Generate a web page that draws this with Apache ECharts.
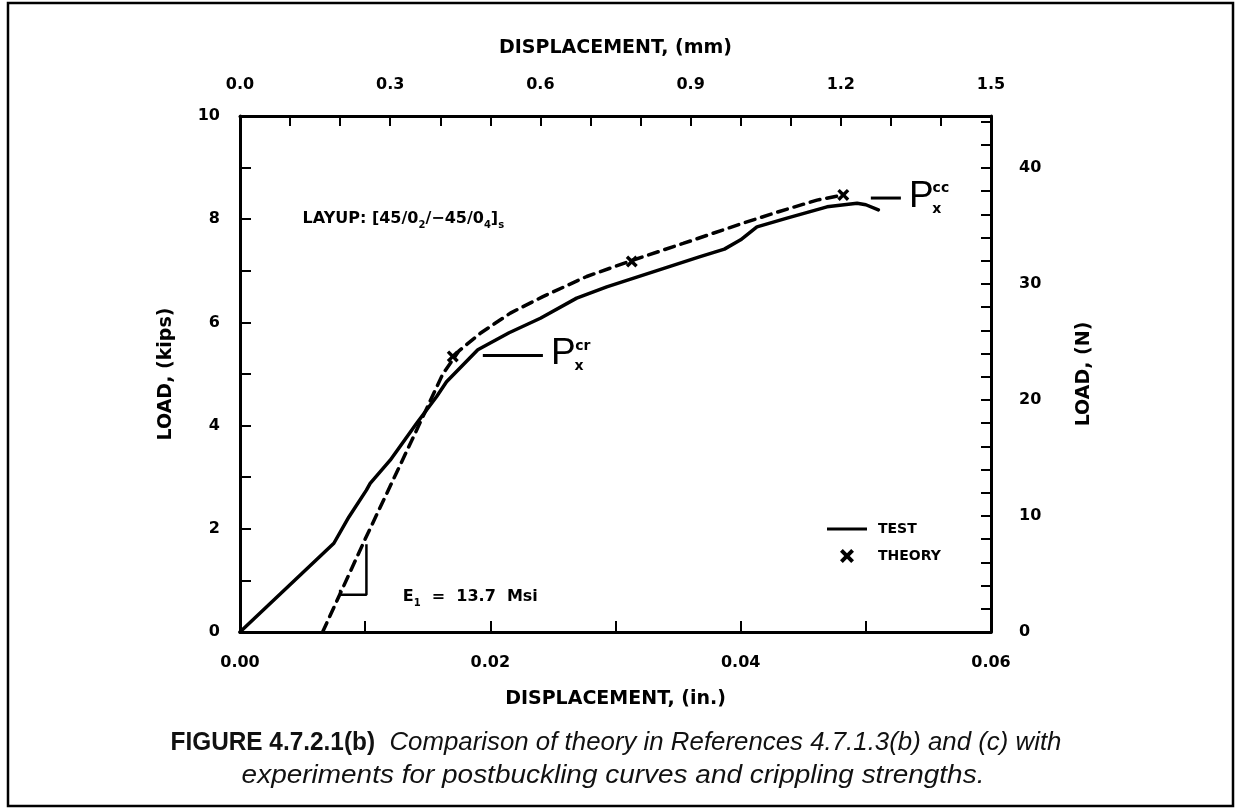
<!DOCTYPE html>
<html><head><meta charset="utf-8">
<script src="https://cdn.jsdelivr.net/npm/echarts@6/dist/echarts.min.js"></script>
<style>html,body{margin:0;padding:0;background:#fff}#c{width:1237px;height:811px}</style>
</head><body><div id="c"></div>
<script>
// ---- data ----
const TEST_X    = [0, 0.0075, 0.0087, 0.0101, 0.0104, 0.0120, 0.0141, 0.0157, 0.0165, 0.0190, 0.0215, 0.0240, 0.0269, 0.0293, 0.0330, 0.0367, 0.0387, 0.0400, 0.0413, 0.0437, 0.0469, 0.0493, 0.0500, 0.0510];
const TEST_LOAD = [0, 1.72, 2.23, 2.75, 2.88, 3.33, 4.04, 4.56, 4.85, 5.47, 5.80, 6.08, 6.47, 6.69, 6.98, 7.27, 7.42, 7.60, 7.85, 8.02, 8.24, 8.31, 8.28, 8.18];
const THEORY_CURVE_X    = [0.0066, 0.0100, 0.0137, 0.0162, 0.0175, 0.0192, 0.0216, 0.0242, 0.0277, 0.0313, 0.0354, 0.0399, 0.0431, 0.0461, 0.0482];
const THEORY_CURVE_LOAD = [0, 1.80, 3.70, 5.00, 5.45, 5.79, 6.18, 6.50, 6.89, 7.20, 7.53, 7.90, 8.15, 8.37, 8.47];
const THEORY_MARK_X    = [0.0170, 0.0313, 0.0482];
const THEORY_MARK_LOAD = [5.34, 7.18, 8.47];
const SLOPE_X    = [0.0080, 0.0080, 0.0101, 0.0101];
const SLOPE_LOAD = [0.82, 0.72, 0.72, 1.70];

// tick labels
const X_IN_LABELS = ['0.00', '0.02', '0.04', '0.06'];
const X_MM_LABELS = ['0.0', '0.3', '0.6', '0.9', '1.2', '1.5'];
const Y_KIPS_LABELS = ['0', '2', '4', '6', '8', '10'];
const Y_N_LABELS = ['0', '10', '20', '30', '40'];

// annotation anchors (data coordinates, in./kips)
const PCR_LINE = [[0.0194, 5.36], [0.0242, 5.36]];
const PCC_LINE = [[0.0504, 8.41], [0.0528, 8.41]];
const LAYUP_AT = [0.0050, 8.0];
const E1_AT = [0.0130, 0.68];

const FONT = "'DejaVu Sans', sans-serif";
const KIPS_TO_KN = 4.448;

const pairs = (xs, ys) => xs.map((x, i) => [x, ys[i]]);
const fmt = (labels, d) => v => { const s = (+v).toFixed(d); return labels.indexOf(s) >= 0 ? s : ''; };
const XSYM = 'path://M0,2L2,0L5,3L8,0L10,2L7,5L10,8L8,10L5,7L2,10L0,8L3,5Z';

const labelStyle = { color: '#000', fontFamily: FONT, fontWeight: 'bold', fontSize: 16 };
const nameStyle = { color: '#000', fontFamily: FONT, fontWeight: 'bold', fontSize: 19 };
const lineStyleAxis = { color: '#000', width: 3 };
const tickStyle = { color: '#000', width: 2 };

const chart = echarts.init(document.getElementById('c'), null, { renderer: 'canvas' });
chart.setOption({
  animation: false,
  backgroundColor: '#fff',
  grid: { left: 240, right: 246, top: 116, bottom: 179, containLabel: false, outerBoundsMode: 'none' },
  legend: {
    orient: 'vertical', left: 822, top: 517, itemWidth: 40, itemHeight: 14, itemGap: 13,
    itemStyle: { opacity: 1 },
    textStyle: { color: '#000', fontFamily: FONT, fontWeight: 'bold', fontSize: 14, padding: [0, 0, 0, 6] },
    data: [
      { name: 'TEST', icon: 'path://M0,0H40V3.2H0Z' },
      { name: 'THEORY', icon: XSYM }
    ],
    selectedMode: false
  },
  xAxis: [
    {
      type: 'value', position: 'bottom', min: 0, max: 0.06, interval: 0.01,
      name: 'DISPLACEMENT, (in.)', nameLocation: 'middle', nameGap: 58, nameTextStyle: nameStyle,
      axisLine: { show: true, onZero: false, lineStyle: lineStyleAxis },
      axisTick: { show: true, inside: true, length: 11, lineStyle: tickStyle },
      axisLabel: { ...labelStyle, margin: 23, formatter: fmt(X_IN_LABELS, 2) },
      splitLine: { show: false }
    },
    {
      type: 'value', position: 'top', min: 0, max: 1.5, interval: 0.1,
      name: 'DISPLACEMENT, (mm)', nameLocation: 'middle', nameGap: 58, nameTextStyle: nameStyle,
      axisLine: { show: true, onZero: false, lineStyle: lineStyleAxis },
      axisTick: { show: true, inside: true, length: 10, lineStyle: tickStyle },
      axisLabel: { ...labelStyle, margin: 23, formatter: fmt(X_MM_LABELS, 1) },
      splitLine: { show: false }
    }
  ],
  yAxis: [
    {
      type: 'value', position: 'left', min: 0, max: 10, interval: 1,
      name: 'LOAD, (kips)', nameLocation: 'middle', nameGap: 64, nameRotate: 90, nameTextStyle: nameStyle,
      axisLine: { show: true, onZero: false, lineStyle: lineStyleAxis },
      axisTick: { show: true, inside: true, length: 11, lineStyle: tickStyle },
      axisLabel: { ...labelStyle, margin: 20, formatter: fmt(Y_KIPS_LABELS, 0) },
      splitLine: { show: false }
    },
    {
      type: 'value', position: 'right', min: 0, max: 10 * KIPS_TO_KN, interval: 2,
      name: 'LOAD, (N)', nameLocation: 'middle', nameGap: 84, nameRotate: 90, nameTextStyle: nameStyle,
      axisLine: { show: true, onZero: false, lineStyle: lineStyleAxis },
      axisTick: { show: true, inside: true, length: 10, lineStyle: tickStyle },
      axisLabel: { ...labelStyle, margin: 28, align: 'left', formatter: fmt(Y_N_LABELS, 0) },
      splitLine: { show: false }
    }
  ],
  series: [
    {
      name: 'THEORY curve', type: 'line', xAxisIndex: 0, yAxisIndex: 0,
      data: pairs(THEORY_CURVE_X, THEORY_CURVE_LOAD), showSymbol: false, silent: true,
      lineStyle: { color: '#000', width: 3.5, type: [10, 7], cap: 'round' }, z: 2
    },
    {
      name: 'TEST', type: 'line', xAxisIndex: 0, yAxisIndex: 0,
      data: pairs(TEST_X, TEST_LOAD), showSymbol: false, silent: true,
      itemStyle: { color: '#000' },
      lineStyle: { color: '#000', width: 3.5, join: 'round', cap: 'round' }, z: 3
    },
    {
      name: 'THEORY', type: 'scatter', xAxisIndex: 0, yAxisIndex: 0,
      data: pairs(THEORY_MARK_X, THEORY_MARK_LOAD), symbol: XSYM, symbolSize: 12,
      itemStyle: { color: '#000', opacity: 1 }, silent: true, z: 4
    },
    {
      name: 'slope', type: 'line', xAxisIndex: 0, yAxisIndex: 0,
      data: pairs(SLOPE_X, SLOPE_LOAD), showSymbol: false, silent: true,
      lineStyle: { color: '#000', width: 2.5 }, z: 3
    }
  ]
});

function px(p) { return chart.convertToPixel({ xAxisIndex: 0, yAxisIndex: 0 }, p); }

function pLabel(line, sup) {
  const a = px(line[0]), b = px(line[1]);
  const pl = b[0] + 8, py = b[1];
  return [
    { type: 'line', shape: { x1: a[0], y1: a[1], x2: b[0], y2: b[1] }, style: { stroke: '#000', lineWidth: 3 } },
    { type: 'text', x: pl, y: py - 1.5, style: { text: 'P', fontFamily: "'Liberation Sans', sans-serif", fontSize: 37, fill: '#000', align: 'left', verticalAlign: 'middle' } },
    { type: 'text', x: pl + 32, y: py - 9.5, style: { text: sup, fontFamily: FONT, fontWeight: 'bold', fontSize: 14, fill: '#000', align: 'center', verticalAlign: 'middle' } },
    { type: 'text', x: pl + 28, y: py + 11, style: { text: 'x', fontFamily: FONT, fontWeight: 'bold', fontSize: 14, fill: '#000', align: 'center', verticalAlign: 'middle' } }
  ];
}

const lay = px(LAYUP_AT), e1 = px(E1_AT);
const subRich = {
  m: { fontFamily: FONT, fontWeight: 'bold', fontSize: 16, lineHeight: 22, fill: '#000' },
  s: { fontFamily: FONT, fontWeight: 'bold', fontSize: 10, lineHeight: 14, verticalAlign: 'bottom', fill: '#000' }
};
const capRich = {
  b: { fontFamily: "'Liberation Sans', sans-serif", fontWeight: 'bold', fontSize: 25, fill: '#111' },
  i: { fontFamily: "'Liberation Sans', sans-serif", fontStyle: 'italic', fontSize: 26.5, fill: '#111' }
};

chart.setOption({
  graphic: [
    { type: 'rect', shape: { x: 8, y: 3, width: 1225, height: 803 }, style: { fill: 'none', stroke: '#000', lineWidth: 2.5 }, silent: true },
    { type: 'text', x: lay[0], y: lay[1], style: { text: '{m|LAYUP: [45/0}{s|2}{m|/\u221245/0}{s|4}{m|]}{s|s}', rich: subRich, align: 'left', verticalAlign: 'middle' } },
    { type: 'text', x: e1[0], y: e1[1], style: { text: '{m|E}{s|1}{m|  =  13.7  Msi}', rich: subRich, align: 'left', verticalAlign: 'middle' } },
    ...pLabel(PCR_LINE, 'cr'),
    ...pLabel(PCC_LINE, 'cc'),
    { type: 'text', x: 616, y: 743, scaleX: 0.975, style: { text: '{b|FIGURE 4.7.2.1(b)}{i|  Comparison of theory in References 4.7.1.3(b) and (c) with}', rich: capRich, align: 'center', verticalAlign: 'middle' } },
    { type: 'text', x: 613, y: 776, scaleX: 1.055, style: { text: '{i|experiments for postbuckling curves and crippling strengths.}', rich: capRich, align: 'center', verticalAlign: 'middle' } }
  ]
});
</script>
</body></html>
